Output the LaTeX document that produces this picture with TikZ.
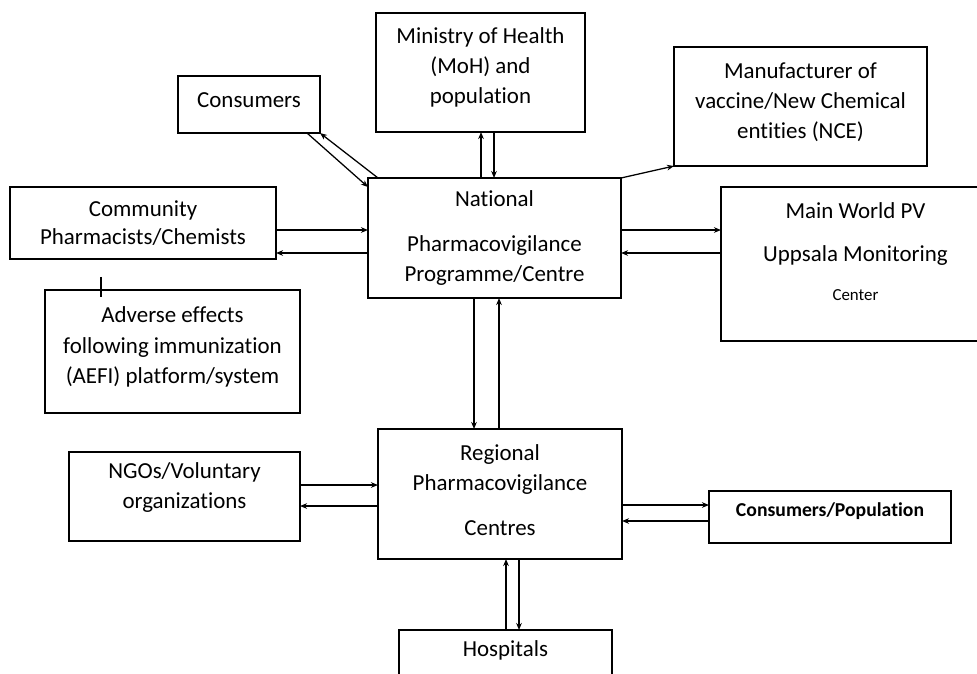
\documentclass[tikz,border=0pt]{standalone}
\usepackage{fontspec}
\setmainfont{Carlito}[Ligatures=NoCommon]
\usetikzlibrary{arrows.meta}

\begin{document}
\begin{tikzpicture}[x=0.025cm,y=-0.025cm,line width=0.9pt,>={Stealth[length=5pt,width=4pt]},
  box/.style={draw,line width=1pt,inner sep=0pt,outer sep=0pt,align=center,font=\fontsize{16.3}{21.5}\selectfont}]
\clip (0,0) rectangle (977,673);
\node[box,minimum width=3.55cm,minimum height=1.425cm,text depth=7pt] (cons) at (249,104.5) {Consumers};
\node[box,minimum width=5.225cm,minimum height=2.975cm,text depth=10pt] (moh) at (480.5,72.5) {Ministry of Health\\(MoH) and\\population};
\node[box,minimum width=6.325cm,minimum height=2.975cm,text depth=8pt] (manu) at (800.5,106.5) {Manufacturer of\\vaccine/New Chemical\\entities (NCE)};
\node[box,minimum width=6.65cm,minimum height=1.8cm] (comm) at (143,223) {Community\\[-2pt]Pharmacists/Chemists};
\node[box,minimum width=6.325cm,minimum height=3cm] (nat) at (494.5,238) {National\\[10.5pt]Pharmacovigilance\\Programme/Centre};
\node[box,minimum width=6.725cm,minimum height=3.85cm,text depth=18pt] (upps) at (855.5,264) {Main World PV\\[9pt]Uppsala Monitoring\\[6pt]{\fontsize{12}{14}\selectfont Center}};
\node[box,minimum width=6.375cm,minimum height=3.075cm,text depth=9pt] (aefi) at (172.5,351.5) {Adverse effects\\following immunization\\(AEFI) platform/system};
\node[box,minimum width=6.1cm,minimum height=3.25cm,text depth=6pt] (reg) at (500,494) {Regional\\Pharmacovigilance\\[10pt]Centres};
\node[box,minimum width=5.775cm,minimum height=2.225cm,text depth=16pt] (ngo) at (184.5,496.5) {NGOs/Voluntary\\organizations};
\node[box,minimum width=6.05cm,minimum height=1.3cm,text depth=10pt,font=\fontsize{14}{17}\selectfont\bfseries] (conspop) at (830,517) {Consumers/Population};
\node[box,minimum width=5.325cm,minimum height=1.2cm,text depth=7.5pt] (hosp) at (505.5,654) {Hospitals};

% links around the national centre
\draw[->] (cons.south -| 307,0) -- (nat.west |- 0,187);
\draw[->] (nat.north -| 378,0) -- (cons.south east);
\draw[->] (comm.east |- 0,230) -- (nat.west |- 0,230);
\draw[->] (nat.west |- 0,253) -- (comm.east |- 0,253);
\draw[->] (nat.north -| 481,0) -- (moh.south -| 481,0);
\draw[->] (moh.south -| 494,0) -- (nat.north -| 494,0);
\draw[->] (nat.north east) -- (manu.south west);
\draw[->] (nat.east |- 0,230) -- (upps.west |- 0,230);
\draw[->] (upps.west |- 0,253) -- (nat.east |- 0,253);
\draw[->] (nat.south -| 474,0) -- (reg.north -| 474,0);
\draw[->] (reg.north -| 499,0) -- (nat.south -| 499,0);
\draw[line width=1.3pt] (aefi.north -| 101,0) ++(0,-13) -- ++(0,20);

% links around the regional centres
\draw[->] (ngo.east |- 0,485) -- (reg.west |- 0,485);
\draw[->] (reg.west |- 0,506) -- (ngo.east |- 0,506);
\draw[->] (reg.east |- 0,505) -- (conspop.west |- 0,505);
\draw[->] (conspop.west |- 0,521) -- (reg.east |- 0,521);
\draw[->] (hosp.north -| 506,0) -- (reg.south -| 506,0);
\draw[->] (reg.south -| 519,0) -- (hosp.north -| 519,0);
\end{tikzpicture}
\end{document}
